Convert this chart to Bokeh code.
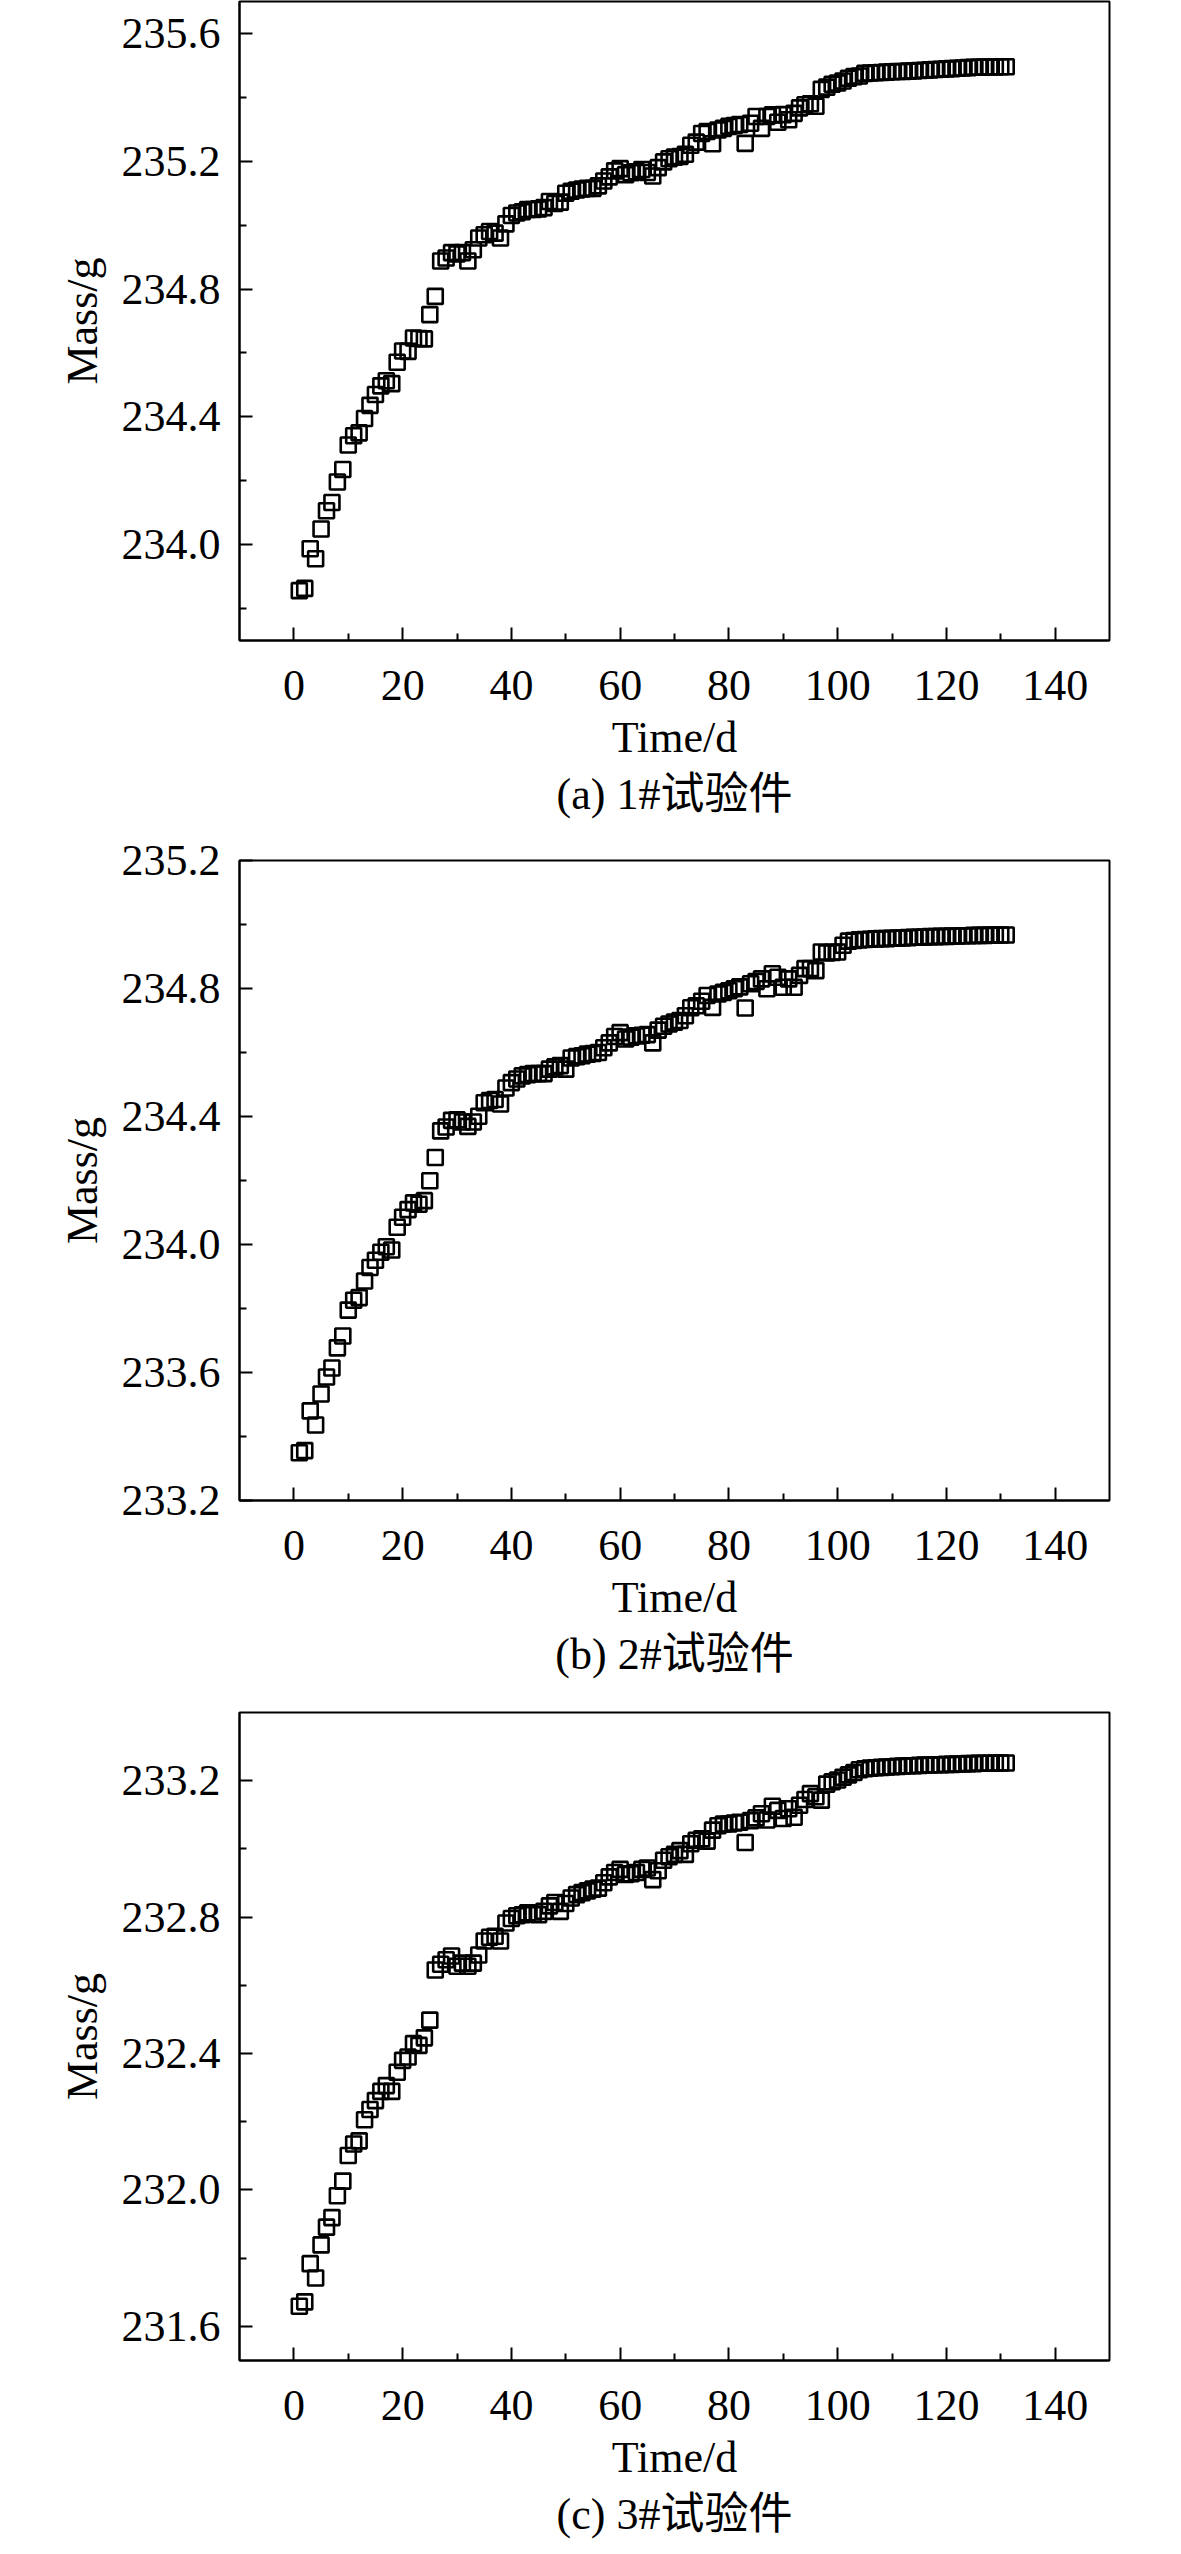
from bokeh.plotting import figure
from bokeh.layouts import column
from bokeh.models import FixedTicker, PrintfTickFormatter, Range1d, Title
from bokeh.embed import file_html
from bokeh.resources import INLINE

days = [1, 2, 3, 4, 5, 6, 7, 8, 9, 10, 11, 12, 13, 14, 15, 16, 17, 18, 19, 20,
        21, 22, 23, 24, 25, 26, 27, 28, 29, 30, 31, 32, 33, 34, 35, 36, 37, 38, 39, 40,
        41, 42, 43, 44, 45, 46, 47, 48, 49, 50, 51, 52, 53, 54, 55, 56, 57, 58, 59, 60,
        61, 62, 63, 64, 65, 66, 67, 68, 69, 70, 71, 72, 73, 74, 75, 76, 77, 78, 79, 80,
        81, 82, 83, 84, 85, 86, 87, 88, 89, 90, 91, 92, 93, 94, 95, 96, 97, 98, 99, 100,
        101, 102, 103, 104, 105, 106, 107, 108, 109, 110, 111, 112, 113, 114, 115, 116,
        117, 118, 119, 120, 121, 122, 123, 124, 125, 126, 127, 128, 129, 130, 131]

mass_a = [233.856, 233.863, 233.987, 233.956, 234.049, 234.106, 234.132, 234.196, 234.235, 234.312,
          234.341, 234.350, 234.395, 234.436, 234.470, 234.497, 234.513, 234.504, 234.571, 234.606,
          234.605, 234.647, 234.645, 234.644, 234.720, 234.777, 234.888, 234.897, 234.914, 234.910,
          234.914, 234.888, 234.923, 234.960, 234.970, 234.980, 234.975, 234.960, 235.004, 235.030,
          235.038, 235.042, 235.049, 235.049, 235.051, 235.055, 235.074, 235.068, 235.072, 235.100,
          235.106, 235.110, 235.113, 235.115, 235.115, 235.123, 235.138, 235.151, 235.170, 235.177,
          235.158, 235.164, 235.167, 235.174, 235.165, 235.154, 235.180, 235.198, 235.208, 235.213,
          235.215, 235.222, 235.250, 235.260, 235.287, 235.293, 235.255, 235.298, 235.303, 235.309,
          235.312, 235.315, 235.256, 235.319, 235.340, 235.303, 235.340, 235.345, 235.322, 235.346,
          235.330, 235.350, 235.367, 235.377, 235.380, 235.372, 235.425, 235.432, 235.441, 235.445,
          235.451, 235.460, 235.465, 235.467, 235.475, 235.476, 235.477, 235.478, 235.479, 235.480,
          235.481, 235.481, 235.482, 235.483, 235.484, 235.485, 235.486, 235.487, 235.488, 235.489,
          235.490, 235.491, 235.492, 235.493, 235.494, 235.494, 235.495, 235.495, 235.495, 235.496,
          235.496]

mass_b = [233.349, 233.356, 233.480, 233.436, 233.533, 233.586, 233.614, 233.677, 233.714, 233.795,
          233.826, 233.834, 233.886, 233.928, 233.951, 233.976, 233.993, 233.983, 234.054, 234.085,
          234.109, 234.130, 234.126, 234.137, 234.199, 234.272, 234.355, 234.367, 234.388, 234.390,
          234.383, 234.369, 234.383, 234.401, 234.443, 234.450, 234.453, 234.439, 234.489, 234.506,
          234.517, 234.527, 234.531, 234.534, 234.534, 234.534, 234.548, 234.555, 234.559, 234.548,
          234.583, 234.587, 234.590, 234.595, 234.597, 234.600, 234.615, 234.630, 234.650, 234.662,
          234.642, 234.648, 234.652, 234.654, 234.656, 234.630, 234.670, 234.682, 234.689, 234.695,
          234.700, 234.715, 234.740, 234.746, 234.760, 234.778, 234.741, 234.783, 234.788, 234.793,
          234.799, 234.805, 234.739, 234.815, 234.822, 234.830, 234.799, 234.846, 234.835, 234.804,
          234.830, 234.804, 234.841, 234.862, 234.862, 234.856, 234.914, 234.911, 234.913, 234.914,
          234.935, 234.948, 234.950, 234.952, 234.953, 234.954, 234.955, 234.956, 234.956, 234.957,
          234.958, 234.958, 234.959, 234.960, 234.960, 234.961, 234.962, 234.962, 234.963, 234.963,
          234.964, 234.964, 234.965, 234.965, 234.966, 234.966, 234.966, 234.967, 234.967, 234.967,
          234.967]

mass_c = [231.659, 231.672, 231.784, 231.742, 231.839, 231.891, 231.919, 231.983, 232.026, 232.101,
          232.135, 232.144, 232.206, 232.236, 232.262, 232.289, 232.306, 232.289, 232.345, 232.380,
          232.390, 232.429, 232.424, 232.446, 232.498, 232.645, 232.662, 232.675, 232.686, 232.656,
          232.665, 232.656, 232.665, 232.689, 232.730, 232.741, 232.744, 232.730, 232.783, 232.796,
          232.804, 232.807, 232.813, 232.809, 232.807, 232.817, 232.833, 232.843, 232.817, 232.840,
          232.856, 232.866, 232.872, 232.877, 232.882, 232.885, 232.901, 232.918, 232.931, 232.940,
          232.925, 232.927, 232.931, 232.940, 232.944, 232.910, 232.936, 232.967, 232.977, 232.984,
          232.995, 232.984, 233.015, 233.025, 233.030, 233.023, 233.055, 233.068, 233.073, 233.073,
          233.076, 233.078, 233.019, 233.083, 233.091, 233.103, 233.085, 233.125, 233.113, 233.089,
          233.118, 233.093, 233.128, 233.145, 233.162, 233.153, 233.143, 233.190, 233.197, 233.202,
          233.210, 233.217, 233.224, 233.232, 233.235, 233.237, 233.238, 233.239, 233.240, 233.241,
          233.242, 233.243, 233.244, 233.244, 233.245, 233.246, 233.246, 233.247, 233.247, 233.248,
          233.248, 233.249, 233.249, 233.250, 233.250, 233.251, 233.251, 233.251, 233.252, 233.252,
          233.252]

x_ticks = [0, 20, 40, 60, 80, 100, 120, 140]
x_minor = [10, 30, 50, 70, 90, 110, 130]

ticks_a = [234.0, 234.4, 234.8, 235.2, 235.6]
minor_a = [233.8, 234.2, 234.6, 235.0, 235.4]
ticks_b = [233.2, 233.6, 234.0, 234.4, 234.8, 235.2]
minor_b = [233.4, 233.8, 234.2, 234.6, 235.0]
ticks_c = [231.6, 232.0, 232.4, 232.8, 233.2]
minor_c = [231.8, 232.2, 232.6, 233.0]

captions = ["(a) 1#试验件", "(b) 2#试验件", "(c) 3#试验件"]
x_label = "Time/d"
y_label = "Mass/g"

SERIF = "'Liberation Serif', 'Noto Sans CJK SC'"
FS = "44px"


def make_panel(yvals, yr, yticks, yminor, caption, frame_h, top, bottom):
    p = figure(frame_width=870, frame_height=frame_h,
               x_range=Range1d(-10, 150), y_range=Range1d(*yr),
               output_backend="svg", toolbar_location=None,
               min_border_left=239, min_border_right=31,
               min_border_top=top, min_border_bottom=bottom)
    p.xgrid.visible = False
    p.ygrid.visible = False
    p.outline_line_color = "black"
    p.outline_line_width = 2
    p.background_fill_color = "white"
    p.border_fill_color = "white"

    for ax in (p.xaxis[0], p.yaxis[0]):
        ax.axis_line_width = 2
        ax.axis_line_color = "black"
        ax.major_tick_in = 13
        ax.major_tick_out = 0
        ax.minor_tick_in = 7
        ax.minor_tick_out = 0
        ax.major_tick_line_width = 2
        ax.minor_tick_line_width = 2
        ax.major_label_text_font = SERIF
        ax.major_label_text_font_size = FS
        ax.major_label_text_color = "black"
        ax.axis_label_text_font = SERIF
        ax.axis_label_text_font_size = FS
        ax.axis_label_text_font_style = "normal"
        ax.axis_label_text_color = "black"

    p.xaxis.ticker = FixedTicker(ticks=x_ticks, minor_ticks=x_minor)
    p.xaxis.major_label_standoff = 30
    p.xaxis.axis_label = x_label
    p.xaxis.axis_label_standoff = 10

    p.yaxis.ticker = FixedTicker(ticks=yticks, minor_ticks=yminor)
    p.yaxis.formatter = PrintfTickFormatter(format="%.1f")
    p.yaxis.major_label_standoff = 19
    p.yaxis.axis_label = y_label
    p.yaxis.axis_label_standoff = 12

    p.scatter(days, yvals, marker="square", size=15, fill_alpha=0,
              line_color="black", line_width=2.6)

    t = Title(text=caption, align="center", text_font=SERIF, text_font_size=FS,
              text_font_style="normal", text_color="black", standoff=6)
    p.add_layout(t, "below")
    return p


# page rows: panel (a) frame 9..648, (b) frame 868..1508, (c) frame 1720..2368
pa = make_panel(mass_a, (233.7, 235.7), ticks_a, minor_a, captions[0], 639, 1, 195)
pb = make_panel(mass_b, (233.2, 235.2), ticks_b, minor_b, captions[1], 640, 25, 187)
pc = make_panel(mass_c, (231.5, 233.4), ticks_c, minor_c, captions[2], 648, 25, 190)

layout = column(pa, pb, pc)
open("out.html", "w").write(file_html(layout, INLINE))
